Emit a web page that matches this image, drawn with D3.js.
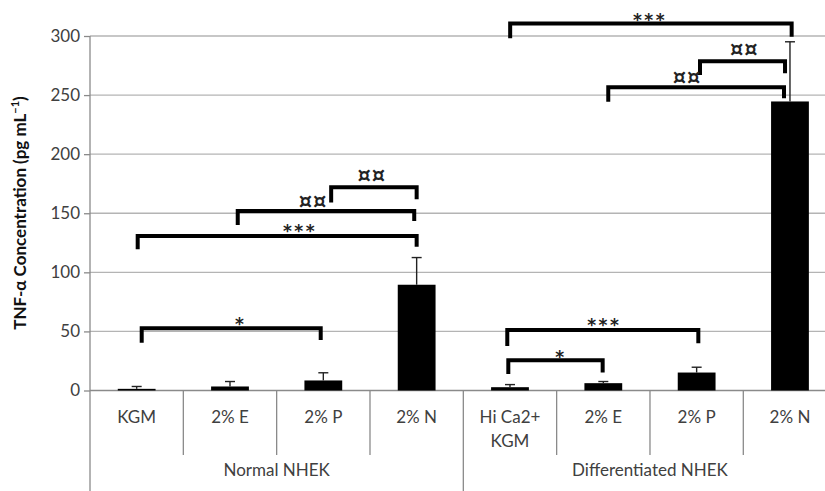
<!DOCTYPE html>
<html><head><meta charset="utf-8">
<script src="https://cdn.jsdelivr.net/npm/d3@7"></script>
<style>body{margin:0;background:#fff}svg{display:block}</style>
</head><body><svg id="c" width="825" height="491"></svg>
<script>
// ---- data ----
const categories = ["KGM", "2% E", "2% P", "2% N", "Hi Ca2+\nKGM", "2% E", "2% P", "2% N"];
const groups = ["Normal NHEK", "Differentiated NHEK"];
const means = [1.4, 3.4, 8.5, 89.5, 2.8, 6.2, 15.2, 244.6];
const errors = [2.0, 4.2, 6.5, 23.0, 2.2, 1.4, 4.5, 50.5];
const yTicks = [0, 50, 100, 150, 200, 250, 300];
// significance brackets (positions in category units / data units)
const brFrom   = [0.554, 0.511, 1.583, 2.584, 4.502, 6.536, 5.553, 4.471, 4.482];
const brTo     = [2.472, 3.500, 3.474, 3.500, 7.518, 7.447, 7.436, 6.518, 5.493];
const brY      = [52.6, 130.7, 151.8, 172.0, 310.6, 278.6, 256.6, 51.2, 25.6];
const brLeftB  = [40.4, 119.5, 140.0, 159.0, 298.0, 267.0, 244.4, 37.7, 14.0];
const brRightB = [42.7, 121.7, 143.4, 161.8, 299.4, 268.4, 247.3, 40.0, 15.2];
const brLabel  = ["*", "***", "¤¤", "¤¤", "***", "¤¤", "¤¤", "***", "*"];
const brLabelX = [1.615, 2.25, 2.39, 3.02, 6.0, 7.01, 6.397, 5.51, 5.046];
const brLabelY = [59.7, 138.1, 161.2, 183.0, 316.9, 289.6, 266.1, 59.1, 31.5];

// ---- layout ----
const svg = d3.select("#c");
const font = "Lato, 'Open Sans', sans-serif";
const symFont = "'DejaVu Sans', sans-serif";
const x0 = 90, bandW = 93.33;
const x = d3.scaleBand().domain(d3.range(categories.length)).range([x0, x0 + bandW * categories.length]).padding(0);
const xu = d3.scaleLinear().domain([0, categories.length]).range(x.range());
const y = d3.scaleLinear().domain([0, 300]).range([390.5, 36]);

// gridlines
svg.append("g").selectAll("line").data(yTicks).join("line")
  .attr("x1", x0).attr("x2", 825).attr("y1", d => y(d)).attr("y2", d => y(d))
  .attr("stroke", d => d === 0 ? "#8a8a8a" : "#b4b4b4").attr("stroke-width", 1.3);

// y axis
const yAxis = d3.axisLeft(y).tickValues(yTicks).tickSize(6).tickPadding(4);
const gy = svg.append("g").attr("transform", `translate(${x0},0)`).call(yAxis);
gy.select(".domain").remove();
gy.selectAll(".tick line").attr("stroke", "#8a8a8a").attr("stroke-width", 1.3);
gy.selectAll(".tick text").attr("font-family", font).attr("font-size", 17).attr("fill", "#404040");
svg.append("line").attr("x1", x0).attr("x2", x0).attr("y1", y(300)).attr("y2", 491)
  .attr("stroke", "#8a8a8a").attr("stroke-width", 1.3);

// category separators
svg.append("g").selectAll("line").data(d3.range(1, categories.length + 1)).join("line")
  .attr("x1", d => xu(d)).attr("x2", d => xu(d))
  .attr("y1", y(0)).attr("y2", d => d % 4 === 0 ? 491 : 455)
  .attr("stroke", "#8a8a8a").attr("stroke-width", 1.3);

// category labels
const cl = svg.append("g").selectAll("text").data(categories).join("text")
  .attr("x", (d, i) => x(i) + x.bandwidth() / 2).attr("y", 423)
  .attr("text-anchor", "middle").attr("font-family", font).attr("font-size", 17).attr("fill", "#404040");
cl.each(function (d) {
  const lines = d.split("\n");
  d3.select(this).selectAll("tspan").data(lines).join("tspan")
    .attr("x", d3.select(this).attr("x")).attr("dy", (l, j) => j === 0 ? 0 : 24).text(l => l);
});

// group labels
svg.append("g").selectAll("text").data(groups).join("text")
  .attr("x", (d, i) => (xu(i * 4) + xu(i * 4 + 4)) / 2).attr("y", 476)
  .attr("text-anchor", "middle").attr("font-family", font).attr("font-size", 17).attr("fill", "#404040")
  .text(d => d);

// bars
const barW = x.bandwidth() * 0.405;
svg.append("g").selectAll("rect").data(means).join("rect")
  .attr("x", (d, i) => x(i) + x.bandwidth() / 2 - barW / 2).attr("width", barW)
  .attr("y", d => y(d)).attr("height", d => y(0) - y(d)).attr("fill", "#000");

// error bars
const eb = svg.append("g").attr("stroke", "#222").attr("stroke-width", 1.4);
means.forEach((m, i) => {
  const cx = x(i) + x.bandwidth() / 2;
  eb.append("line").attr("x1", cx).attr("x2", cx).attr("y1", y(m)).attr("y2", y(m + errors[i]));
  eb.append("line").attr("x1", cx - 5).attr("x2", cx + 5).attr("y1", y(m + errors[i])).attr("y2", y(m + errors[i]));
});

// brackets
const bg = svg.append("g");
brY.forEach((v, i) => {
  const p = d3.path();
  p.moveTo(xu(brFrom[i]), y(brLeftB[i]));
  p.lineTo(xu(brFrom[i]), y(v));
  p.lineTo(xu(brTo[i]), y(v));
  p.lineTo(xu(brTo[i]), y(brRightB[i]));
  bg.append("path").attr("d", p.toString()).attr("fill", "none").attr("stroke", "#000")
    .attr("stroke-width", 4).attr("stroke-linejoin", "miter");
  const lab = brLabel[i];
  const isStar = lab.indexOf("*") >= 0;
  bg.append("text").attr("x", xu(brLabelX[i])).attr("y", y(brLabelY[i]) + (isStar ? 10 : 8))
    .attr("text-anchor", "middle").attr("font-family", symFont).attr("font-size", isStar ? 17 : 21)
    .attr("font-weight", "bold").attr("letter-spacing", isStar ? 2.5 : 1).attr("fill", "#222").text(lab);
});

// y title
const yt = svg.append("text").attr("transform", "translate(26,213) rotate(-90)")
  .attr("text-anchor", "middle").attr("font-family", font).attr("font-size", 17).attr("font-weight", "bold")
  .attr("fill", "#111");
yt.append("tspan").text("TNF-α Concentration (pg mL");
yt.append("tspan").attr("font-size", 11).attr("dy", -7).text("−1");
yt.append("tspan").attr("dy", 7).text(")");
</script></body></html>
